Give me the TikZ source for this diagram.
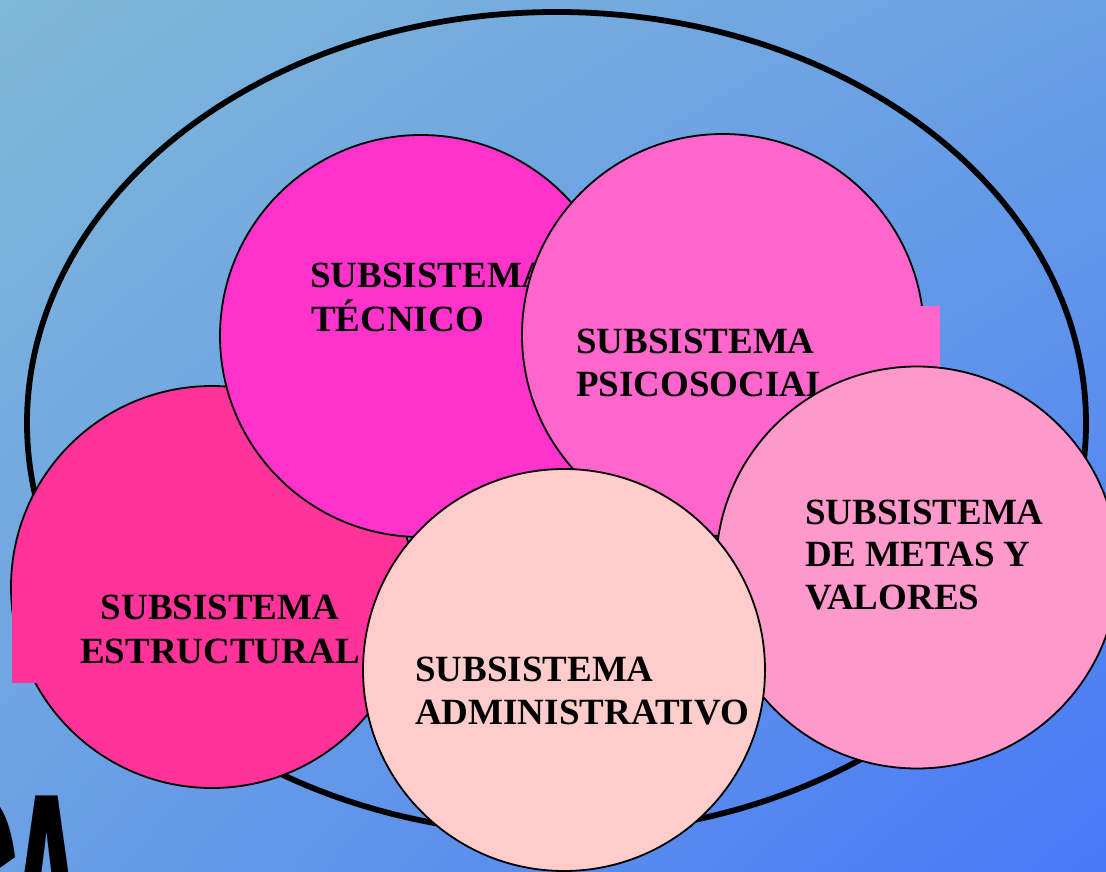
\documentclass[tikz,border=0pt]{standalone}
\usepackage{fontspec}
\usetikzlibrary{shadings}
\setmainfont{Liberation Serif}
\newfontfamily\wafont{Liberation Sans}
\definecolor{bgA}{HTML}{80B8D8}
\definecolor{bgB}{HTML}{6AA0E4}
\definecolor{bgC}{HTML}{4878F8}
\definecolor{cTec}{HTML}{FF33CC}
\definecolor{cPsi}{HTML}{FF66CC}
\definecolor{cEst}{HTML}{FF3399}
\definecolor{cAdm}{HTML}{FFCCCC}
\definecolor{cMet}{HTML}{FF99CC}
\tikzset{
  sub/.style={circle, draw=black, line width=1.8pt, minimum size=402pt, inner sep=0pt},
  lbl/.style={inner sep=0pt, anchor=base west, font=\fontsize{37}{43}\selectfont\bfseries},
  lblc/.style={lbl, anchor=base}
}
\begin{document}
\begin{tikzpicture}[x=1pt,y=-1pt]
\useasboundingbox (0,0) rectangle (1106,872);
\clip (0,0) rectangle (1106,872);
\shade[upper left=bgA, upper right=bgB, lower left=bgB, lower right=bgC] (0,0) rectangle (1106,872);
% outer ellipse
\draw[line width=5.8pt] (556.5,423) ellipse [x radius=529.5, y radius=411];
% estructural
\node[sub, fill=cEst] (est) at (212,587) {};
\fill[cEst] (12,585) rectangle (380,683);
\node[lblc] (est1) at (220,619) {SUBSISTEMA};
\node[lblc] (est2) at (220,663) {ESTRUCTURAL};
% tecnico
\node[sub, fill=cTec] (tec) at (421,336) {};
\node[lbl] (tec1) at (310,287) {SUBSISTEMA};
\node[lbl] (tec2) at (311,331) {TÉCNICO};
% psicosocial
\node[sub, fill=cPsi] (psi) at (723,335) {};
\fill[cPsi] (600,306) rectangle (940,410);
\node[lbl] (psi1) at (576,353) {SUBSISTEMA};
\node[lbl] (psi2) at (576,396) {PSICOSOCIAL};
% metas y valores
\node[sub, fill=cMet] (met) at (917,567.5) {};
\node[lbl] (met1) at (805,524) {SUBSISTEMA};
\node[lbl] (met2) at (805,566) {DE METAS Y};
\node[lbl] (met3) at (805,609) {VALORES};
% administrativo
\node[sub, fill=cAdm] (adm) at (564,670) {};
\node[lbl] (adm1) at (415,681) {SUBSISTEMA};
\node[lbl] (adm2) at (415,724) {ADMINISTRATIVO};
% big partial title
\node[inner sep=0pt, anchor=base west, font=\wafont\bfseries\fontsize{341}{341}\selectfont] (ttl) at (-75,1030) {\scalebox{0.385}[1]{C\kern-54pt A}};
\end{tikzpicture}
\end{document}
